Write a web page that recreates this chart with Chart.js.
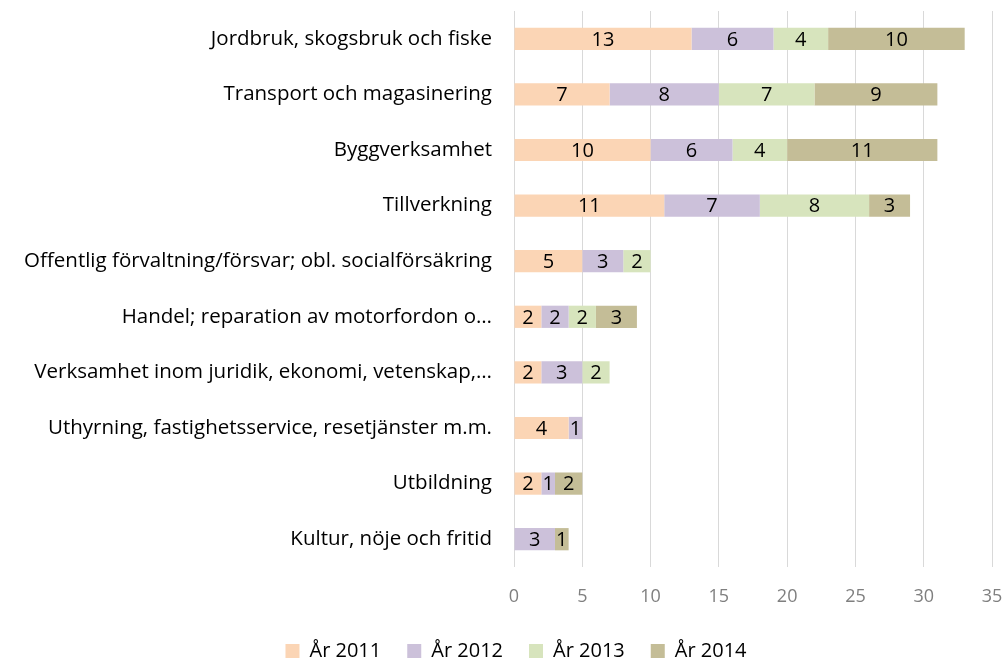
<!DOCTYPE html>
<html>
<head>
<meta charset="utf-8">
<script src="https://cdn.jsdelivr.net/npm/chart.js@4/dist/chart.umd.min.js"></script>
<style>
  html, body { margin: 0; padding: 0; background: #fff; }
  #wrap { width: 1005px; height: 660px; }
</style>
</head>
<body>
<div id="wrap"><canvas id="chart" width="1005" height="660"></canvas></div>
<script>
/* ===== Data ===== */
const categories = [
  "Jordbruk, skogsbruk och fiske",
  "Transport och magasinering",
  "Byggverksamhet",
  "Tillverkning",
  "Offentlig förvaltning/försvar; obl. socialförsäkring",
  "Handel; reparation av motorfordon o…",
  "Verksamhet inom juridik, ekonomi, vetenskap,…",
  "Uthyrning, fastighetsservice, resetjänster m.m.",
  "Utbildning",
  "Kultur, nöje och fritid"
];
const years = ["År 2011", "År 2012", "År 2013", "År 2014"];
const values2011 = [13, 7, 10, 11, 5, 2, 2, 4, 2, null];
const values2012 = [6, 8, 6, 7, 3, 2, 3, 1, 1, 3];
const values2013 = [4, 7, 4, 8, 2, 2, 2, null, null, null];
const values2014 = [10, 9, 11, 3, null, 3, null, null, 2, 1];
const xTicks = [0, 5, 10, 15, 20, 25, 30, 35];

const colors = ["#FBD5B5", "#CCC1DA", "#D7E4BD", "#C4BD97"];
const FONT = "Open Sans";

/* ===== Labels in the bars ===== */
const barLabels = {
  id: "barLabels",
  afterDatasetsDraw(chart) {
    const ctx = chart.ctx;
    ctx.save();
    ctx.font = `20px "${FONT}"`;
    ctx.fillStyle = "#000";
    ctx.textAlign = "center";
    ctx.textBaseline = "middle";
    chart.data.datasets.forEach((ds, i) => {
      const meta = chart.getDatasetMeta(i);
      meta.data.forEach((bar, j) => {
        const v = ds.data[j];
        if (v == null) return;
        const p = bar.getProps(["x", "y", "base"], true);
        ctx.fillText(String(v), (p.x + p.base) / 2, p.y + 1);
      });
    });
    ctx.restore();
  }
};

/* legend sits a little right of the canvas centre in the original */
const legendShift = {
  id: "legendShift",
  afterLayout(chart) {
    if (chart.legend) chart.legend.left += 40;
  }
};

const allSeries = [values2011, values2012, values2013, values2014];

new Chart(document.getElementById("chart"), {
  type: "bar",
  data: {
    labels: categories,
    datasets: years.map((y, i) => ({
      label: y,
      data: allSeries[i],
      backgroundColor: colors[i],
      borderWidth: 0,
      categoryPercentage: 1,
      barPercentage: 0.4
    }))
  },
  options: {
    indexAxis: "y",
    responsive: false,
    animation: false,
    layout: { padding: { left: 0, right: 13, top: 11, bottom: -11 } },
    plugins: {
      legend: {
        position: "bottom",
        labels: {
          boxWidth: 14,
          boxHeight: 14,
          padding: 26,
          color: "#000",
          font: { family: FONT, size: 20 }
        }
      },
      tooltip: { enabled: false }
    },
    scales: {
      x: {
        stacked: true,
        min: 0,
        max: 35,
        afterBuildTicks: s => { s.ticks = xTicks.map(v => ({ value: v })); },
        grid: { color: "#D9D9D9", lineWidth: 1, drawTicks: false },
        border: { display: false },
        ticks: { color: "#7F7F7F", padding: 19, font: { family: FONT, size: 18 } },
        afterFit: s => { s.height = 48; s.paddingLeft = 0; s.paddingRight = 0; }
      },
      y: {
        stacked: true,
        grid: { display: false, drawTicks: false },
        border: { display: false },
        ticks: { color: "#000", padding: 22, autoSkip: false, font: { family: FONT, size: 20.5 } },
        afterFit: s => { s.width = 514; s.paddingTop = 0; s.paddingBottom = 0; }
      }
    }
  },
  plugins: [barLabels, legendShift]
});
</script>
</body>
</html>
